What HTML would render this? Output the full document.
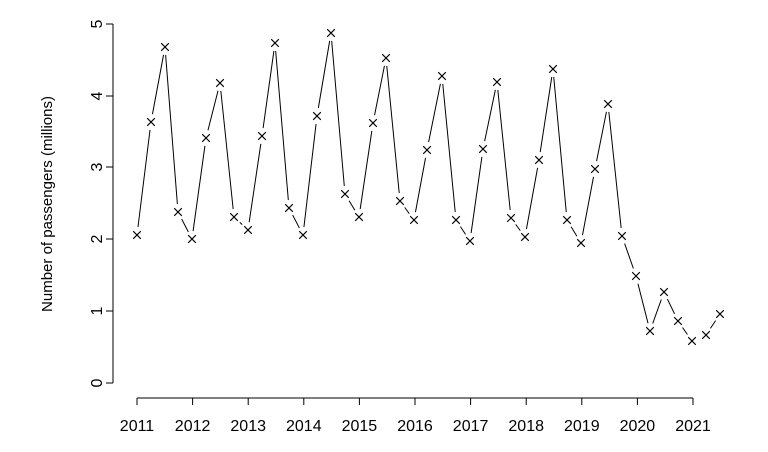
<!DOCTYPE html>
<html><head><style>body{margin:0;background:#fff}svg{display:block;font-family:"Liberation Sans",Arial,sans-serif}</style></head>
<body>
<svg width="768" height="452" viewBox="0 0 768 452" xmlns="http://www.w3.org/2000/svg" xmlns:xlink="http://www.w3.org/1999/xlink">
<defs><path id="m" d="M-3.8,-3.8L3.8,3.8M-3.8,3.8L3.8,-3.8" stroke="#000" stroke-width="1.1" fill="none"/>
<circle id="w" r="8" fill="#fff"/></defs>
<g stroke="#000" stroke-width="1" fill="none">
<line x1="113" y1="383" x2="113" y2="24"/>
<line x1="106" y1="383" x2="113" y2="383"/><line x1="106" y1="311" x2="113" y2="311"/><line x1="106" y1="239" x2="113" y2="239"/><line x1="106" y1="167" x2="113" y2="167"/><line x1="106" y1="96" x2="113" y2="96"/><line x1="106" y1="24" x2="113" y2="24"/>
<line x1="137" y1="398" x2="693" y2="398"/>
<line x1="137" y1="398" x2="137" y2="405"/><line x1="192.6" y1="398" x2="192.6" y2="405"/><line x1="248.2" y1="398" x2="248.2" y2="405"/><line x1="303.8" y1="398" x2="303.8" y2="405"/><line x1="359.4" y1="398" x2="359.4" y2="405"/><line x1="415" y1="398" x2="415" y2="405"/><line x1="470.6" y1="398" x2="470.6" y2="405"/><line x1="526.2" y1="398" x2="526.2" y2="405"/><line x1="581.8" y1="398" x2="581.8" y2="405"/><line x1="637.4" y1="398" x2="637.4" y2="405"/><line x1="693" y1="398" x2="693" y2="405"/>
<polyline points="137,235 151,122 165,47 178,212 192,239 206,138 220,83 234,217 248,230 262,136 275,43 289,208 303,235 317,116 331,33 345,194 359,217 373,123 386,58 400,201 414,220 427,150 442,76 456,220 470,241 483,149 497,82 511,218 525,237 539,160 553,69 567,220 581,243 595,169 608,104 622,236 636,276 650,331 664,292 678,321 692,341 706,335 720,314"/>
</g>
<g>
<use href="#w" x="137" y="235"/><use href="#w" x="151" y="122"/><use href="#w" x="165" y="47"/><use href="#w" x="178" y="212"/><use href="#w" x="192" y="239"/><use href="#w" x="206" y="138"/><use href="#w" x="220" y="83"/><use href="#w" x="234" y="217"/><use href="#w" x="248" y="230"/><use href="#w" x="262" y="136"/><use href="#w" x="275" y="43"/><use href="#w" x="289" y="208"/><use href="#w" x="303" y="235"/><use href="#w" x="317" y="116"/><use href="#w" x="331" y="33"/><use href="#w" x="345" y="194"/><use href="#w" x="359" y="217"/><use href="#w" x="373" y="123"/><use href="#w" x="386" y="58"/><use href="#w" x="400" y="201"/><use href="#w" x="414" y="220"/><use href="#w" x="427" y="150"/><use href="#w" x="442" y="76"/><use href="#w" x="456" y="220"/><use href="#w" x="470" y="241"/><use href="#w" x="483" y="149"/><use href="#w" x="497" y="82"/><use href="#w" x="511" y="218"/><use href="#w" x="525" y="237"/><use href="#w" x="539" y="160"/><use href="#w" x="553" y="69"/><use href="#w" x="567" y="220"/><use href="#w" x="581" y="243"/><use href="#w" x="595" y="169"/><use href="#w" x="608" y="104"/><use href="#w" x="622" y="236"/><use href="#w" x="636" y="276"/><use href="#w" x="650" y="331"/><use href="#w" x="664" y="292"/><use href="#w" x="678" y="321"/><use href="#w" x="692" y="341"/><use href="#w" x="706" y="335"/><use href="#w" x="720" y="314"/>
</g>
<g>
<use href="#m" x="137" y="235"/><use href="#m" x="151" y="122"/><use href="#m" x="165" y="47"/><use href="#m" x="178" y="212"/><use href="#m" x="192" y="239"/><use href="#m" x="206" y="138"/><use href="#m" x="220" y="83"/><use href="#m" x="234" y="217"/><use href="#m" x="248" y="230"/><use href="#m" x="262" y="136"/><use href="#m" x="275" y="43"/><use href="#m" x="289" y="208"/><use href="#m" x="303" y="235"/><use href="#m" x="317" y="116"/><use href="#m" x="331" y="33"/><use href="#m" x="345" y="194"/><use href="#m" x="359" y="217"/><use href="#m" x="373" y="123"/><use href="#m" x="386" y="58"/><use href="#m" x="400" y="201"/><use href="#m" x="414" y="220"/><use href="#m" x="427" y="150"/><use href="#m" x="442" y="76"/><use href="#m" x="456" y="220"/><use href="#m" x="470" y="241"/><use href="#m" x="483" y="149"/><use href="#m" x="497" y="82"/><use href="#m" x="511" y="218"/><use href="#m" x="525" y="237"/><use href="#m" x="539" y="160"/><use href="#m" x="553" y="69"/><use href="#m" x="567" y="220"/><use href="#m" x="581" y="243"/><use href="#m" x="595" y="169"/><use href="#m" x="608" y="104"/><use href="#m" x="622" y="236"/><use href="#m" x="636" y="276"/><use href="#m" x="650" y="331"/><use href="#m" x="664" y="292"/><use href="#m" x="678" y="321"/><use href="#m" x="692" y="341"/><use href="#m" x="706" y="335"/><use href="#m" x="720" y="314"/>
</g>
<g fill="#000" font-size="16" text-anchor="middle">
<text x="137" y="431">2011</text><text x="192.6" y="431">2012</text><text x="248.2" y="431">2013</text><text x="303.8" y="431">2014</text><text x="359.4" y="431">2015</text><text x="415" y="431">2016</text><text x="470.6" y="431">2017</text><text x="526.2" y="431">2018</text><text x="581.8" y="431">2019</text><text x="637.4" y="431">2020</text><text x="693" y="431">2021</text>
<text transform="translate(102,383) rotate(-90)">0</text><text transform="translate(102,311) rotate(-90)">1</text><text transform="translate(102,239) rotate(-90)">2</text><text transform="translate(102,167) rotate(-90)">3</text><text transform="translate(102,96) rotate(-90)">4</text><text transform="translate(102,24) rotate(-90)">5</text>
<text transform="translate(52,204) rotate(-90)" font-size="15">Number of passengers (millions)</text>
</g>
</svg>
</body></html>
